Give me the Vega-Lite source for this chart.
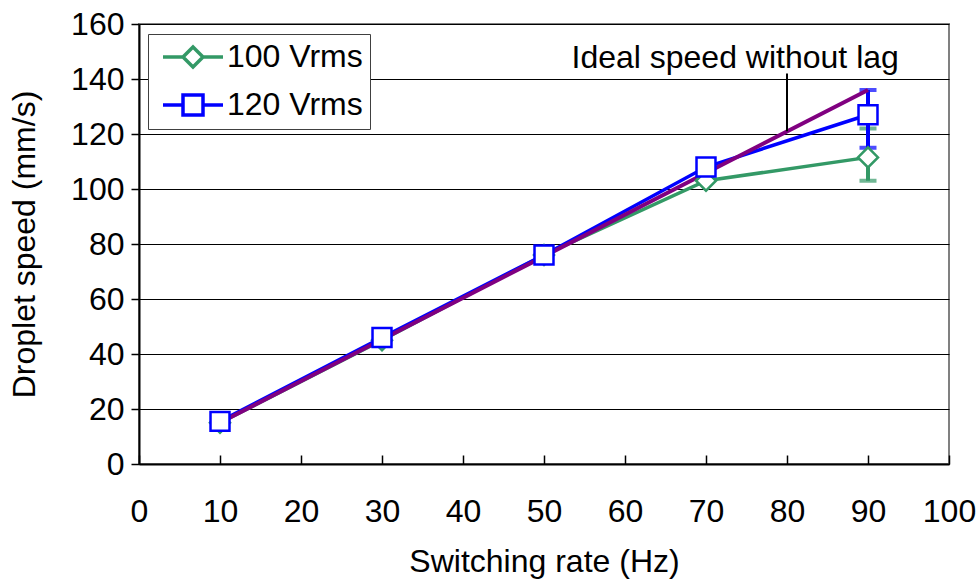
{
  "$schema": "https://vega.github.io/schema/vega-lite/v6.json",
  "width": 810,
  "height": 440,
  "autosize": "none",
  "padding": {"left": 139, "top": 24, "right": 30, "bottom": 119},
  "background": "white",
  "config": {
    "font": "Liberation Sans",
    "view": {"stroke": "#808080", "strokeWidth": 2},
    "axis": {
      "labelFont": "Liberation Sans",
      "titleFont": "Liberation Sans",
      "labelFontSize": 32,
      "titleFontSize": 32,
      "titleFontWeight": "normal",
      "labelColor": "black",
      "titleColor": "black",
      "domainColor": "black",
      "domainWidth": 2,
      "tickColor": "black",
      "tickWidth": 1.5,
      "labelFlush": false,
      "labelOverlap": false
    }
  },
  "datasets": {
    "measured": [
      {"rate": 10, "speed": 15, "series": "100 Vrms"},
      {"rate": 30, "speed": 45, "series": "100 Vrms"},
      {"rate": 50, "speed": 76, "series": "100 Vrms"},
      {"rate": 70, "speed": 103, "series": "100 Vrms"},
      {"rate": 90, "speed": 111.5, "lo": 103, "hi": 122, "series": "100 Vrms"},
      {"rate": 10, "speed": 15.5, "series": "120 Vrms"},
      {"rate": 30, "speed": 46, "series": "120 Vrms"},
      {"rate": 50, "speed": 76, "series": "120 Vrms"},
      {"rate": 70, "speed": 108, "series": "120 Vrms"},
      {"rate": 90, "speed": 127, "lo": 115, "hi": 136, "series": "120 Vrms"}
    ],
    "ideal": [
      {"rate": 10, "speed": 15},
      {"rate": 30, "speed": 45.3},
      {"rate": 50, "speed": 75.5},
      {"rate": 70, "speed": 105.8},
      {"rate": 90, "speed": 136}
    ],
    "note": [
      {"rate": 73.6, "speed": 144, "top": 142, "bottom": 121, "x": 80, "label": "Ideal speed without lag"}
    ]
  },
  "encoding": {
    "x": {
      "field": "rate", "type": "quantitative",
      "scale": {"domain": [0, 100], "nice": false},
      "axis": {"values": [0,10,20,30,40,50,60,70,80,90,100], "grid": false, "tickSize": -9, "labelPadding": 41, "title": "Switching rate (Hz)", "titlePadding": 19}
    },
    "y": {
      "field": "speed", "type": "quantitative",
      "scale": {"domain": [0, 160], "nice": false},
      "axis": {"values": [0,20,40,60,80,100,120,140,160], "grid": true, "gridColor": "black", "gridWidth": 1, "tickSize": 8, "labelPadding": 7, "title": "Droplet speed (mm/s)", "titlePadding": 29}
    }
  },
  "layer": [
    {
      "data": {"name": "measured"},
      "transform": [{"filter": "datum.series === '100 Vrms' && isValid(datum.lo)"}],
      "mark": {"type": "rule", "color": "#339966", "strokeWidth": 4},
      "encoding": {"y": {"field": "lo", "type": "quantitative"}, "y2": {"field": "hi"}}
    },
    {
      "data": {"name": "measured"},
      "transform": [{"filter": "datum.series === '100 Vrms' && isValid(datum.lo)"}, {"fold": ["lo", "hi"], "as": ["end", "val"]}],
      "mark": {"type": "tick", "orient": "horizontal", "color": "#339966", "size": 17, "thickness": 4},
      "encoding": {"y": {"field": "val", "type": "quantitative"}}
    },
    {
      "data": {"name": "measured"},
      "transform": [{"filter": "datum.series === '100 Vrms'"}],
      "mark": {"type": "line", "color": "#339966", "strokeWidth": 3.5},
      "encoding": {}
    },
    {
      "data": {"name": "measured"},
      "transform": [{"filter": "datum.series === '120 Vrms' && isValid(datum.lo)"}],
      "mark": {"type": "rule", "color": "#0000FF", "strokeWidth": 4},
      "encoding": {"y": {"field": "lo", "type": "quantitative"}, "y2": {"field": "hi"}}
    },
    {
      "data": {"name": "measured"},
      "transform": [{"filter": "datum.series === '120 Vrms' && isValid(datum.lo)"}, {"fold": ["lo", "hi"], "as": ["end", "val"]}],
      "mark": {"type": "tick", "orient": "horizontal", "color": "#0000FF", "size": 17, "thickness": 4},
      "encoding": {"y": {"field": "val", "type": "quantitative"}}
    },
    {
      "data": {"name": "measured"},
      "transform": [{"filter": "datum.series === '120 Vrms'"}],
      "mark": {"type": "line", "color": "#0000FF", "strokeWidth": 3.5},
      "encoding": {}
    },
    {
      "data": {"name": "ideal"},
      "mark": {"type": "line", "color": "#800080", "strokeWidth": 4},
      "encoding": {}
    },
    {
      "data": {"name": "measured"},
      "transform": [{"filter": "datum.series === '100 Vrms'"}],
      "mark": {"type": "point", "shape": "diamond", "filled": true, "fill": "white", "stroke": "#339966", "strokeWidth": 2.5, "size": 400, "opacity": 1},
      "encoding": {}
    },
    {
      "data": {"name": "measured"},
      "transform": [{"filter": "datum.series === '120 Vrms'"}],
      "mark": {"type": "point", "shape": "square", "filled": true, "fill": "white", "stroke": "#0000FF", "strokeWidth": 2.5, "size": 360, "opacity": 1},
      "encoding": {}
    },
    {
      "data": {"name": "measured"},
      "transform": [{"filter": "false"}],
      "mark": {"type": "point", "filled": false, "strokeWidth": 3.5, "opacity": 1},
      "encoding": {
        "color": {
          "field": "series", "type": "nominal",
          "scale": {"domain": ["100 Vrms", "120 Vrms"], "range": ["#339966", "#0000FF"]},
          "legend": {
            "title": null, "orient": "none", "legendX": 9, "legendY": 10,
            "labelFont": "Liberation Sans", "labelFontSize": 32, "labelColor": "black",
            "symbolSize": 400, "symbolStrokeWidth": 3.5,
            "strokeColor": "#404040", "fillColor": "white", "padding": 7, "rowPadding": 14, "labelOffset": 18,
            "symbolOffset": 22
          }
        },
        "shape": {
          "field": "series", "type": "nominal",
          "scale": {"domain": ["100 Vrms", "120 Vrms"], "range": ["M-3,0L-1,0M1,0L3,0M0,-1L1,0L0,1L-1,0Z", "M-3,0L-1,0M1,0L3,0M-1,-1L1,-1L1,1L-1,1Z"]}
        }
      }
    },
    {
      "data": {"name": "note"},
      "mark": {"type": "rule", "color": "black", "strokeWidth": 2},
      "encoding": {"x": {"field": "x", "type": "quantitative"}, "y": {"field": "top", "type": "quantitative"}, "y2": {"field": "bottom"}}
    },
    {
      "data": {"name": "note"},
      "mark": {"type": "text", "font": "Liberation Sans", "fontSize": 32, "align": "center", "baseline": "alphabetic", "color": "black"},
      "encoding": {"text": {"field": "label"}}
    }
  ]
}
